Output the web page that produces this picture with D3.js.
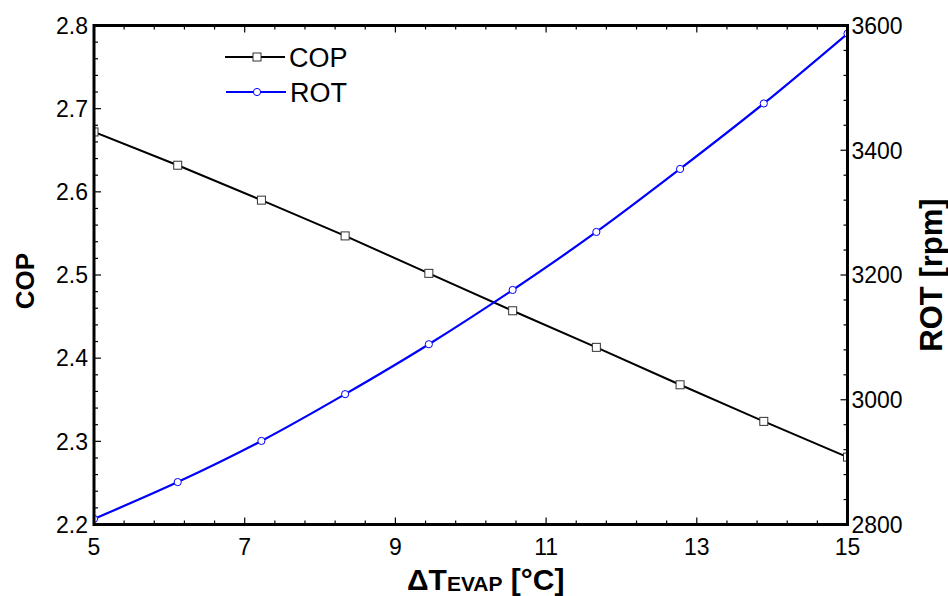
<!DOCTYPE html>
<html><head><meta charset="utf-8">
<script src="https://cdn.jsdelivr.net/npm/d3@7"></script>
<style>body{margin:0;background:#fff}svg{display:block}text{font-family:"Liberation Sans",Arial,sans-serif}</style>
</head><body>
<svg id="c" width="948" height="596"></svg>
<script>
const dT = [5, 6.111, 7.222, 8.333, 9.444, 10.556, 11.667, 12.778, 13.889, 15];
const cop = [2.672, 2.632, 2.590, 2.547, 2.502, 2.457, 2.413, 2.368, 2.324, 2.281];
const rot = [2809, 2868, 2934, 3009, 3089, 3176, 3269, 3370, 3475, 3587];
const xTicks = [5, 7, 9, 11, 13, 15];
const copTicks = [2.2, 2.3, 2.4, 2.5, 2.6, 2.7, 2.8];
const rotTicks = [2800, 3000, 3200, 3400, 3600];

const L = 94, R = 847.5, T = 25.5, B = 524.5;
const svg = d3.select("#c");
const x = d3.scaleLinear().domain([5, 15]).range([L, R]);
const yL = d3.scaleLinear().domain([2.2, 2.8]).range([B, T]);
const yR = d3.scaleLinear().domain([2800, 3600]).range([B, T]);

svg.append("defs").append("clipPath").attr("id", "clip")
  .append("rect").attr("x", L).attr("y", T).attr("width", R - L).attr("height", B - T);

const plot = svg.append("g").attr("clip-path", "url(#clip)");
plot.append("path").datum(dT.map((d, i) => [d, cop[i]]))
  .attr("d", d3.line().x(d => x(d[0])).y(d => yL(d[1])))
  .attr("fill", "none").attr("stroke", "#000").attr("stroke-width", 2);
plot.append("path").datum(dT.map((d, i) => [d, rot[i]]))
  .attr("d", d3.line().curve(d3.curveMonotoneX).x(d => x(d[0])).y(d => yR(d[1])))
  .attr("fill", "none").attr("stroke", "#0000ff").attr("stroke-width", 2.2);
plot.selectAll("rect.m").data(dT.map((d, i) => [d, cop[i]])).join("rect")
  .attr("x", d => x(d[0]) - 4).attr("y", d => yL(d[1]) - 4).attr("width", 8).attr("height", 8)
  .attr("fill", "#fff").attr("stroke", "#333").attr("stroke-width", 1);
plot.selectAll("circle.m").data(dT.map((d, i) => [d, rot[i]])).join("circle")
  .attr("cx", d => x(d[0])).attr("cy", d => yR(d[1])).attr("r", 3.6)
  .attr("fill", "#fff").attr("stroke", "#0000ff").attr("stroke-width", 1);

const xMinor = d3.range(5, 15.0001, 0.4);
const lMinor = d3.range(2.2, 2.8001, 0.02);
const rMinor = d3.range(2800, 3600.1, 40);
const axG = svg.append("g").attr("stroke", "#000").attr("stroke-width", 1.2);
function isMajor(v, arr) { return arr.some(t => Math.abs(t - v) < 1e-6); }
xMinor.forEach(v => {
  const len = isMajor(+v.toFixed(4), xTicks) ? 7 : 4;
  axG.append("line").attr("x1", x(v)).attr("x2", x(v)).attr("y1", B).attr("y2", B - len);
  axG.append("line").attr("x1", x(v)).attr("x2", x(v)).attr("y1", T).attr("y2", T + len);
});
lMinor.forEach(v => {
  const len = isMajor(+v.toFixed(4), copTicks) ? 7 : 4;
  axG.append("line").attr("y1", yL(v)).attr("y2", yL(v)).attr("x1", L).attr("x2", L + len);
});
rMinor.forEach(v => {
  const len = isMajor(v, rotTicks) ? 7 : 4;
  axG.append("line").attr("y1", yR(v)).attr("y2", yR(v)).attr("x1", R).attr("x2", R - len);
});
svg.append("rect").attr("x", L).attr("y", T).attr("width", R - L).attr("height", B - T)
  .attr("fill", "none").attr("stroke", "#000").attr("stroke-width", 3);

const fs = 23;
svg.append("g").selectAll("text").data(xTicks).join("text")
  .attr("x", d => x(d)).attr("y", B + 30).attr("text-anchor", "middle")
  .attr("font-size", fs).text(d => d);
svg.append("g").selectAll("text").data(copTicks).join("text")
  .attr("x", L - 6).attr("y", d => yL(d)).attr("dy", "0.36em").attr("text-anchor", "end")
  .attr("font-size", fs).text(d => d.toFixed(1));
svg.append("g").selectAll("text").data(rotTicks).join("text")
  .attr("x", R + 4).attr("y", d => yR(d)).attr("dy", "0.36em").attr("text-anchor", "start")
  .attr("font-size", fs).text(d => d);

svg.append("text").attr("transform", "translate(34,281) rotate(-90)")
  .attr("text-anchor", "middle").attr("font-size", 26).attr("font-weight", "bold").text("COP");
svg.append("text").attr("transform", "translate(942,275) rotate(-90)")
  .attr("text-anchor", "middle").attr("font-size", 31).attr("font-weight", "bold").text("ROT [rpm]");
const xt = svg.append("text").attr("x", 407).attr("y", 590).attr("font-size", 30).attr("font-weight", "bold");
xt.append("tspan").text("ΔT");
xt.append("tspan").attr("font-size", 21).attr("dy", 1).text("EVAP");
xt.append("tspan").attr("dy", -1).text(" [°C]");

const lg = svg.append("g");
lg.append("line").attr("x1", 225).attr("x2", 285).attr("y1", 57).attr("y2", 57).attr("stroke", "#000").attr("stroke-width", 2);
lg.append("rect").attr("x", 253).attr("y", 53).attr("width", 8).attr("height", 8).attr("fill", "#fff").attr("stroke", "#333");
lg.append("text").attr("x", 289).attr("y", 57).attr("dy", "0.36em").attr("font-size", 27).text("COP");
lg.append("line").attr("x1", 226).attr("x2", 286).attr("y1", 92).attr("y2", 92).attr("stroke", "#0000ff").attr("stroke-width", 2);
lg.append("circle").attr("cx", 257).attr("cy", 92).attr("r", 3.6).attr("fill", "#fff").attr("stroke", "#0000ff");
lg.append("text").attr("x", 290).attr("y", 92).attr("dy", "0.36em").attr("font-size", 27).text("ROT");
</script>
</body></html>
